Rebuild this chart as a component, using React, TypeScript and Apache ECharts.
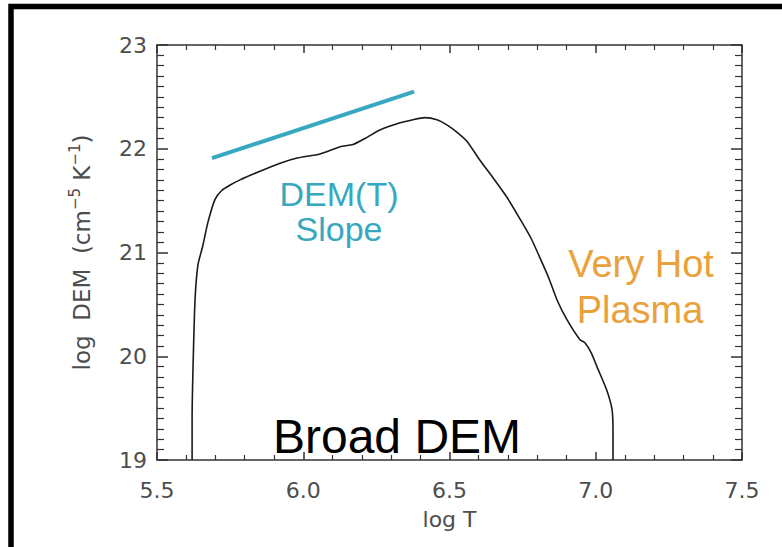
import React, { useEffect, useRef } from "react";
import * as echarts from "echarts";

// log T values of the DEM curve
const demLogT = [
  5.620, 5.620, 5.623, 5.630, 5.640, 5.657, 5.674, 5.698, 5.722, 5.750, 5.784,
  5.850, 5.921, 5.979, 6.057, 6.126, 6.170, 6.218, 6.262, 6.331, 6.375, 6.416,
  6.457, 6.491, 6.525, 6.560, 6.604, 6.649, 6.697, 6.748, 6.780, 6.809, 6.840,
  6.868, 6.902, 6.946, 6.963, 6.985, 7.004, 7.038, 7.056, 7.059, 7.059,
];
// log DEM values of the DEM curve
const demLogDEM = [
  19.00, 19.39, 19.87, 20.54, 20.88, 21.07, 21.29, 21.51, 21.60, 21.65, 21.70,
  21.78, 21.86, 21.91, 21.95, 22.02, 22.04, 22.11, 22.18, 22.25, 22.28, 22.30,
  22.28, 22.23, 22.16, 22.07, 21.89, 21.72, 21.53, 21.29, 21.13, 20.95, 20.75,
  20.54, 20.35, 20.16, 20.13, 20.03, 19.90, 19.67, 19.48, 19.26, 19.00,
];
// DEM(T) slope guide line
const slopeLogT = [5.688, 6.379];
const slopeLogDEM = [21.91, 22.55];

const xTicks = [5.5, 6.0, 6.5, 7.0, 7.5];
const yTicks = [19, 20, 21, 22, 23];

export default function App() {
  const ref = useRef<HTMLDivElement>(null);
  useEffect(() => {
    if (!ref.current) return;
    const chart = echarts.init(ref.current, undefined, { renderer: "svg" });
    const axisColor = "#333";
    const labelColor = "#4d4d4d";
    const tickFont = "DejaVu Sans";
    const xCommon = {
      type: "value" as const,
      min: xTicks[0],
      max: xTicks[xTicks.length - 1],
      interval: 0.5,
      splitLine: { show: false },
      axisLine: { show: true, lineStyle: { color: axisColor, width: 1.5 } },
      axisTick: { show: true, inside: true, length: 8, lineStyle: { color: axisColor, width: 1.5 } },
      minorTick: { show: true, splitNumber: 5, length: 5, lineStyle: { color: axisColor, width: 1.2 } },
    };
    const yCommon = {
      type: "value" as const,
      min: yTicks[0],
      max: yTicks[yTicks.length - 1],
      interval: 1,
      splitLine: { show: false },
      axisLine: { show: true, lineStyle: { color: axisColor, width: 1.5 } },
      axisTick: { show: true, inside: true, length: 11, lineStyle: { color: axisColor, width: 1.5 } },
      minorTick: { show: true, splitNumber: 10, length: 7, lineStyle: { color: axisColor, width: 1.2 } },
    };
    const annFont = (size: number) => `${size}px 'Liberation Sans', Arial, sans-serif`;
    chart.setOption({
      animation: false,
      backgroundColor: "#fff",
      grid: { left: 157, right: 40, top: 45, bottom: 87 },
      xAxis: [
        {
          ...xCommon,
          position: "bottom",
          name: "log T",
          nameLocation: "middle",
          nameGap: 48,
          nameTextStyle: { color: labelColor, fontSize: 22, fontFamily: tickFont },
          axisLabel: {
            color: labelColor,
            fontSize: 22,
            fontFamily: tickFont,
            margin: 19,
            formatter: (v: number) => v.toFixed(1),
          },
        },
        { ...xCommon, position: "top", axisLabel: { show: false } },
      ],
      yAxis: [
        {
          ...yCommon,
          position: "left",
          name: "log  DEM  (cm{s|−5} K{s|−1})",
          nameLocation: "middle",
          nameRotate: 90,
          nameGap: 60,
          nameTextStyle: {
            color: labelColor,
            fontSize: 23,
            fontFamily: tickFont,
            lineHeight: 30,
            rich: {
              s: { fontSize: 15, fontFamily: tickFont, color: labelColor, verticalAlign: "top", lineHeight: 30 },
            },
          },
          axisLabel: { color: labelColor, fontSize: 22, fontFamily: tickFont, margin: 10 },
        },
        { ...yCommon, position: "right", axisLabel: { show: false } },
      ],
      series: [
        {
          type: "line",
          xAxisIndex: 0,
          yAxisIndex: 0,
          data: demLogT.map((t, i) => [t, demLogDEM[i]]),
          showSymbol: false,
          smooth: 0.2,
          lineStyle: { color: "#1a1a1a", width: 1.6 },
          z: 3,
        },
        {
          type: "line",
          xAxisIndex: 0,
          yAxisIndex: 0,
          data: slopeLogT.map((t, i) => [t, slopeLogDEM[i]]),
          showSymbol: false,
          lineStyle: { color: "#37a8c0", width: 4 },
          z: 3,
        },
      ],
      graphic: [
        {
          type: "rect",
          shape: { x: 11, y: 6.5, width: 900, height: 700 },
          style: { fill: "none", stroke: "#000", lineWidth: 5.5 },
          silent: true,
        },
        {
          type: "text",
          x: 339,
          y: 194,
          style: { text: "DEM(T)", fill: "#37a8c0", font: annFont(34), textAlign: "center", textVerticalAlign: "middle" },
        },
        {
          type: "text",
          x: 339,
          y: 229,
          style: { text: "Slope", fill: "#37a8c0", font: annFont(34), textAlign: "center", textVerticalAlign: "middle" },
        },
        {
          type: "text",
          x: 641,
          y: 264,
          style: { text: "Very Hot", fill: "#e9a23b", font: annFont(38), textAlign: "center", textVerticalAlign: "middle" },
        },
        {
          type: "text",
          x: 640,
          y: 310,
          style: { text: "Plasma", fill: "#e9a23b", font: annFont(38), textAlign: "center", textVerticalAlign: "middle" },
        },
        {
          type: "text",
          x: 397,
          y: 436.5,
          style: { text: "Broad DEM", fill: "#000", font: annFont(48), textAlign: "center", textVerticalAlign: "middle" },
        },
      ],
    });
    return () => chart.dispose();
  }, []);
  return (
    <div
      ref={ref}
      style={{ position: "fixed", left: 0, top: 0, width: 782, height: 547 }}
    />
  );
}
